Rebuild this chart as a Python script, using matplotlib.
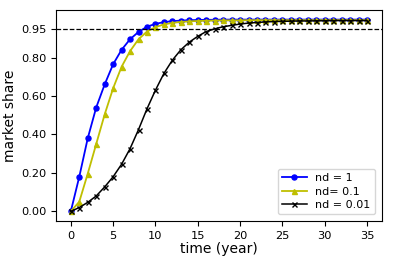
import matplotlib
matplotlib.use("Agg")
import matplotlib.pyplot as plt
import numpy as np

years = list(range(36))
nd1 = [0.0, 0.18, 0.38, 0.54, 0.66, 0.765, 0.84, 0.895, 0.933, 0.96, 0.975, 0.984, 0.989, 0.992, 0.994, 0.995,
       0.996, 0.996, 0.997, 0.997, 0.997, 0.997, 0.997, 0.997, 0.997, 0.997, 0.997, 0.997, 0.997, 0.997,
       0.997, 0.997, 0.997, 0.997, 0.997, 0.997]
nd01 = [0.0, 0.05, 0.196, 0.35, 0.504, 0.64, 0.752, 0.833, 0.895, 0.935, 0.958, 0.972, 0.98, 0.985, 0.988, 0.99,
        0.991, 0.992, 0.993, 0.993, 0.993, 0.994, 0.994, 0.994, 0.994, 0.994, 0.994, 0.994, 0.994, 0.994,
        0.994, 0.994, 0.994, 0.994, 0.994, 0.994]
nd001 = [0.0, 0.02, 0.047, 0.08, 0.127, 0.18, 0.245, 0.326, 0.425, 0.533, 0.63, 0.717, 0.786, 0.84, 0.88, 0.91,
         0.935, 0.949, 0.96, 0.967, 0.974, 0.979, 0.982, 0.985, 0.987, 0.988, 0.989, 0.99, 0.99, 0.991,
         0.991, 0.992, 0.992, 0.992, 0.992, 0.992]
yticks = [0.0, 0.2, 0.4, 0.6, 0.8, 0.95]
xticks = [0, 5, 10, 15, 20, 25, 30, 35]

fig = plt.figure(figsize=(3.93, 2.64), dpi=100)
ax = fig.add_axes([0.1425, 0.163, 0.829, 0.799])
ax.plot(years, nd1, color='b', marker='o', markersize=3.6, linewidth=1.3, label='nd = 1')
ax.plot(years, nd01, color='y', marker='^', markersize=3.6, linewidth=1.3, label='nd= 0.1')
ax.plot(years, nd001, color='k', marker='x', markersize=3.6, linewidth=1.1, label='nd = 0.01')
ax.axhline(0.95, color='k', linestyle='--', linewidth=0.9)
ax.set_yticks(yticks)
ax.set_yticklabels([f"{v:.2f}" for v in yticks])
ax.set_xticks(xticks)
ax.tick_params(labelsize=8.2)
ax.set_xlabel('time (year)', fontsize=10, labelpad=1)
ax.set_ylabel('market share', fontsize=10, labelpad=3)
ax.legend(loc='lower right', fontsize=8, handlelength=2.2, labelspacing=0.3, borderaxespad=0.6)
fig.savefig('out.png', dpi=100)
